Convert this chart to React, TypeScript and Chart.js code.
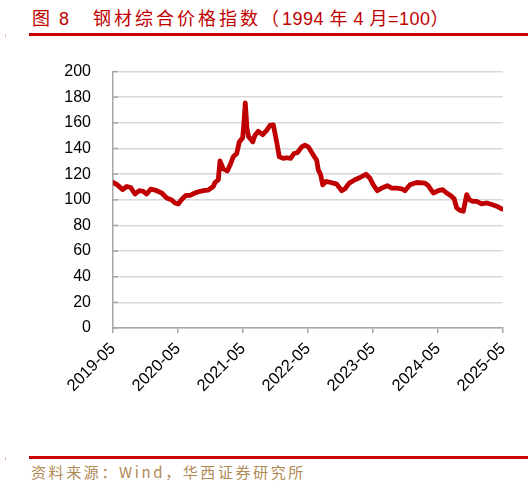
import {useEffect, useRef} from 'react'
import {Chart, registerables} from 'chart.js'
import type {ChartOptions, Plugin} from 'chart.js'

Chart.register(...registerables)

// months since 2019-05 (x position of each reading)
const monthOffsets = [
    0, 0.68, 1.79, 2.53, 3.27, 4.06, 4.86, 5.59, 6.22, 6.96, 7.75, 8.99, 9.91, 10.84, 11.45,
    12.05, 12.68, 13.48, 14.21, 15.14, 16.06, 16.98, 17.59, 18.52, 18.83, 19.44, 19.75, 20.36,
    21.1, 21.73, 22.21, 22.84, 23.32, 23.94, 24.18, 24.42, 24.74, 25.05, 25.42, 25.79, 26.21,
    26.82, 27.64, 28.37, 28.98, 29.59, 30.22, 30.7, 31.44, 32.07, 32.8, 33.41, 34.02, 34.84,
    35.44, 36.05, 36.98, 37.6, 37.9, 38.34, 38.71, 39.32, 40.06, 41.3, 42.22, 42.83, 43.62,
    44.67, 45.6, 46.7, 47.44, 48.05, 48.79, 49.6, 50.64, 51.45, 52.37, 53.3, 53.9, 54.83,
    56.06, 57.6, 58.2, 59.13, 60.05, 60.86, 61.6, 62.52, 63.0, 63.45, 64.06, 64.67, 65.3,
    65.77, 66.4, 67.14, 68.06, 68.98, 69.91, 70.83, 71.76, 72,
]

// 钢材综合价格指数
const steelIndex = [
    113.5, 112, 107.9, 110.4, 109.6, 104.5, 107.1, 106.6, 104.5, 108.3, 107.6, 105.3, 101.4, 99.8, 97.5,
    96.8, 100.2, 103.5, 103.5, 105.3, 106.6, 107.3, 107.6, 110.4, 113.5, 115.6, 130.3, 124.1,
    122.5, 128.4, 133.6, 136.1, 145.2, 148.3, 160.6, 175.5, 155.4, 149, 147.3, 145.2, 150.3,
    153.4, 150.8, 154.2, 158.1, 158.5, 145.2, 133.6, 132.3, 132.8, 132.3, 136.1, 136.7, 141.3,
    142.6, 141.3, 134.9, 131, 123.3, 119.5, 111.7, 114.3, 113.7, 112.2, 107.1, 108.6, 113,
    115.6, 117.4, 119.9, 116.8, 111.7, 107.1, 109.1, 111, 109.1, 109.1, 108.6, 107.1, 111.7,
    113.5, 113, 111, 105.3, 107.1, 107.9, 105.3, 102.7, 100.6, 93.7, 91.7, 91.1, 104,
    100.2, 98.8, 98.8, 96.8, 97.5, 96.3, 95, 92.9, 92.8,
]

const xTickLabels = ['2019-05', '2020-05', '2021-05', '2022-05', '2023-05', '2024-05', '2025-05']
const yTicks = [0, 20, 40, 60, 80, 100, 120, 140, 160, 180, 200]

const axisGray = '#a6a6a6'
const gridGray = '#d9d9d9'
const lineRed = '#c00000'

// short inward tick marks on the y axis
const yInnerTicks: Plugin<'line'> = {
    id: 'yInnerTicks',
    afterDraw(chart) {
        const {ctx, chartArea, scales} = chart
        ctx.save()
        ctx.strokeStyle = axisGray
        ctx.lineWidth = 1.5
        yTicks.forEach((v) => {
            const y = scales.y.getPixelForValue(v)
            ctx.beginPath()
            ctx.moveTo(chartArea.left, y)
            ctx.lineTo(chartArea.left + 5, y)
            ctx.stroke()
        })
        ctx.restore()
    },
}

function SteelPriceChart() {
    const canvasRef = useRef<HTMLCanvasElement>(null)
    const chartRef = useRef<Chart<'line'> | null>(null)

    useEffect(() => {
        if (!canvasRef.current) return
        chartRef.current?.destroy()

        const options: ChartOptions<'line'> = {
            responsive: false,
            animation: false,
            layout: {padding: {top: 27, right: 29, left: 0, bottom: 0}},
            plugins: {legend: {display: false}, tooltip: {enabled: false}},
            scales: {
                x: {
                    type: 'linear',
                    min: 0,
                    max: 72,
                    afterFit: (scale) => {
                        scale.height = 112
                    },
                    afterBuildTicks: (scale) => {
                        scale.ticks = xTickLabels.map((_, i) => ({value: i * 12}))
                    },
                    grid: {
                        drawOnChartArea: false,
                        drawTicks: true,
                        tickLength: 5,
                        color: axisGray,
                        lineWidth: 1.5,
                    },
                    border: {color: axisGray, width: 1.5},
                    ticks: {
                        color: '#000',
                        font: {family: 'Liberation Sans, Arial', size: 16.5},
                        minRotation: 45,
                        maxRotation: 45,
                        padding: 6,
                        callback: (value) => xTickLabels[Math.round(Number(value) / 12)] ?? '',
                    },
                },
                y: {
                    min: 0,
                    max: 200,
                    afterFit: (scale) => {
                        scale.width = 113
                    },
                    grid: {color: gridGray, lineWidth: 1.5, drawTicks: false},
                    border: {color: axisGray, width: 1.5},
                    ticks: {
                        stepSize: 20,
                        color: '#000',
                        padding: 22,
                        font: {family: 'Liberation Sans, Arial', size: 16},
                    },
                },
            },
        }

        chartRef.current = new Chart(canvasRef.current, {
            type: 'line',
            data: {
                datasets: [
                    {
                        label: '钢材综合价格指数',
                        data: monthOffsets.map((m, i) => ({x: m, y: steelIndex[i]})),
                        borderColor: lineRed,
                        borderWidth: 4.8,
                        pointRadius: 0,
                        tension: 0,
                        borderJoinStyle: 'round',
                        borderCapStyle: 'round',
                    },
                ],
            },
            options,
            plugins: [yInnerTicks],
        })

        return () => {
            chartRef.current?.destroy()
            chartRef.current = null
        }
    }, [])

    return <canvas ref={canvasRef} width={532} height={400} style={{position: 'absolute', left: 0, top: 40}}/>
}

export default function App() {
    useEffect(() => {
        document.body.style.margin = '0'
    }, [])

    return (
        <div style={{position: 'relative', width: 532, height: 484, background: '#fff', overflow: 'hidden'}}>
            <div
                style={{
                    position: 'absolute',
                    left: 32,
                    top: 4,
                    color: lineRed,
                    fontFamily: '"Liberation Sans", "Noto Sans CJK SC", sans-serif',
                    fontSize: 18,
                    whiteSpace: 'pre',
                }}
            >
                <span style={{letterSpacing: 2}}>图 8</span>
                <span style={{marginLeft: 22, letterSpacing: 3}}>钢材综合价格指数（</span>
                <span style={{letterSpacing: 0.5}}>1994 年 4 月=100）</span>
            </div>
            <div style={{position: 'absolute', left: 29, top: 33, width: 499, height: 3, background: '#cc0000'}}/>
            <div style={{position: 'absolute', left: 5, top: 34, width: 1, height: 3, background: '#f0b0b0'}}/>
            <SteelPriceChart/>
            <div style={{position: 'absolute', left: 29, top: 456, width: 499, height: 3, background: '#cc0000'}}/>
            <div style={{position: 'absolute', left: 5, top: 457, width: 1, height: 3, background: '#f0b0b0'}}/>
            <div
                style={{
                    position: 'absolute',
                    left: 31,
                    top: 461,
                    color: '#b08a55',
                    fontFamily: '"Noto Sans CJK SC", sans-serif',
                    fontSize: 15,
                    letterSpacing: 2.6,
                    whiteSpace: 'pre',
                }}
            >
                资料来源：Wind，华西证券研究所
            </div>
        </div>
    )
}
